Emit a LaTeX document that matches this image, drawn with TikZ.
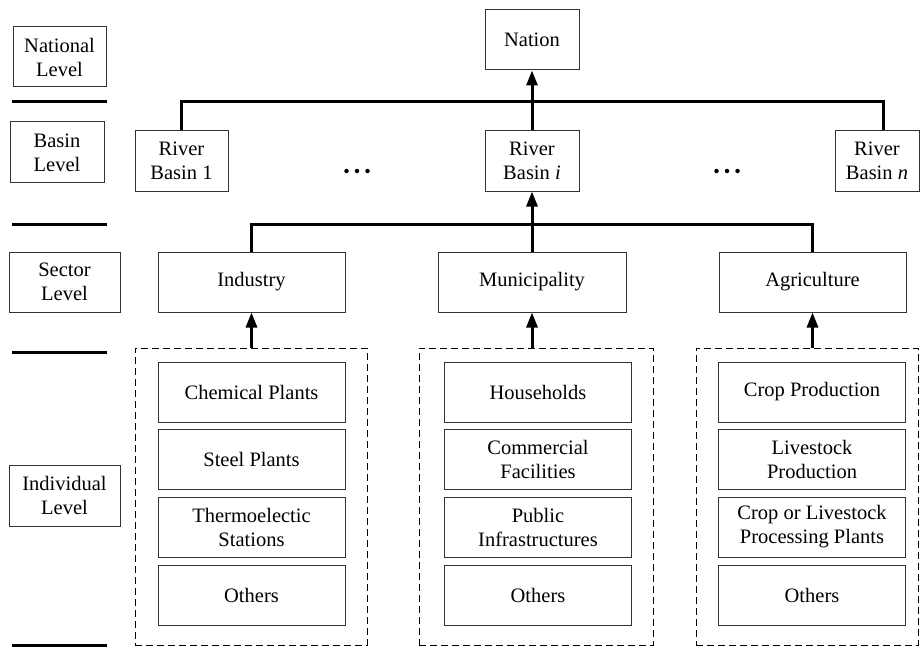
\documentclass[tikz,border=0pt]{standalone}
\usepackage{fontspec}
\setmainfont{Liberation Serif}
\usetikzlibrary{arrows.meta,calc}
\begin{document}
\begin{tikzpicture}[x=1pt,y=-1pt,
  every node/.style={font=\fontsize{20.5}{24}\selectfont, align=center, inner sep=0pt},
  box/.style={draw=black!80, line width=1pt, fill=white},
  dbox/.style={draw=black, line width=1pt, dash pattern=on 7pt off 4pt},
  conn/.style={line width=3pt, draw=black},
  uparrow/.style={conn, -{Triangle[length=15pt,width=11pt]}},
  sep/.style={line width=3pt, draw=black},
  dot/.style={circle, fill=black, minimum size=4.5pt, inner sep=0pt}
]
\useasboundingbox (0,0) rectangle (920,647);

% level labels
\node[box, minimum width=93pt, minimum height=60pt] (natl) at (59.5,57) {National\\Level};
\node[box, minimum width=94pt, minimum height=61pt] (basl) at (57,152.5) {Basin\\Level};
\node[box, minimum width=111pt, minimum height=60pt] (secl) at (64.5,282) {Sector\\Level};
\node[box, minimum width=111pt, minimum height=61pt] (indl) at (64.5,495.5) {Individual\\Level};
\coordinate (s1a) at (12,102); \coordinate (s1b) at (107,102);
\coordinate (s2a) at (12,224); \coordinate (s2b) at (107,224);
\coordinate (s3a) at (12,352); \coordinate (s3b) at (107,352);
\coordinate (s4a) at (12,645); \coordinate (s4b) at (107,645);
\draw[sep] (s1a) -- (s1b);
\draw[sep] (s2a) -- (s2b);
\draw[sep] (s3a) -- (s3b);
\draw[sep] (s4a) -- (s4b);

% nation and basins
\node[box, minimum width=94pt, minimum height=60pt] (nation) at (532,40) {Nation};
\node[box, minimum width=93pt, minimum height=60pt] (rb1) at (181.5,161) {River\\Basin 1};
\node[box, minimum width=94pt, minimum height=60pt] (rbi) at (532,161) {River\\Basin \textit{i}};
\node[box, minimum width=84pt, minimum height=60pt] (rbn) at (877,161) {River\\Basin \textit{n}};
\coordinate (rbntop) at ($(rbn.north)+(6,0)$);
\coordinate (basbus) at (532,102);

\node[dot] (d1) at (346.5,171) {};
\node[dot] (d2) at (357,171) {};
\node[dot] (d3) at (367.5,171) {};
\node[dot] (d4) at (716.5,171) {};
\node[dot] (d5) at (727,171) {};
\node[dot] (d6) at (737.5,171) {};

\draw[conn] (rb1.north) |- (basbus) -| (rbntop);
\draw[uparrow] (rbi.north) -- (nation.south);

% sectors
\node[box, minimum width=187pt, minimum height=60pt] (ind) at (251.5,282) {Industry};
\node[box, minimum width=188pt, minimum height=60pt] (mun) at (532,282) {Municipality};
\node[box, minimum width=187pt, minimum height=60pt] (agr) at (812.5,282) {Agriculture};
\coordinate (secbus) at (532,224);
\draw[conn] (ind.north) |- (secbus) -| (agr.north);
\draw[uparrow] (mun.north) -- (rbi.south);

% dashed groups
\node[dbox, minimum width=232pt, minimum height=297pt] (gind) at (251,496.5) {};
\node[dbox, minimum width=234pt, minimum height=297pt] (gmun) at (536,496.5) {};
\node[dbox, minimum width=222pt, minimum height=297pt] (gagr) at (807,496.5) {};
\draw[uparrow] (ind.south |- gind.north) -- (ind.south);
\draw[uparrow] (mun.south |- gmun.north) -- (mun.south);
\draw[uparrow] (agr.south |- gagr.north) -- (agr.south);

% individual boxes
\tikzset{ibox/.style={box, minimum width=187pt, minimum height=60pt}}
\node[ibox] (i1) at (251.5,392) {Chemical Plants};
\node[ibox] (i2) at (251.5,459) {Steel Plants};
\node[ibox] (i3) at (251.5,527) {Thermoelectic\\Stations};
\node[ibox] (i4) at (251.5,595.5) {Others};

\node[ibox] (m1) at (538,392) {Households};
\node[ibox] (m2) at (538,459) {Commercial\\Facilities};
\node[ibox] (m3) at (538,527) {Public\\Infrastructures};
\node[ibox] (m4) at (538,595.5) {Others};

\node[ibox] (a1) at (812,392) {Crop Production};
\node[ibox] (a2) at (812,459) {Livestock\\Production};
\node[ibox] (a3) at (812,527) {Crop or Livestock\\Processing Plants};
\node[ibox] (a4) at (812,595.5) {Others};
\end{tikzpicture}
\end{document}
